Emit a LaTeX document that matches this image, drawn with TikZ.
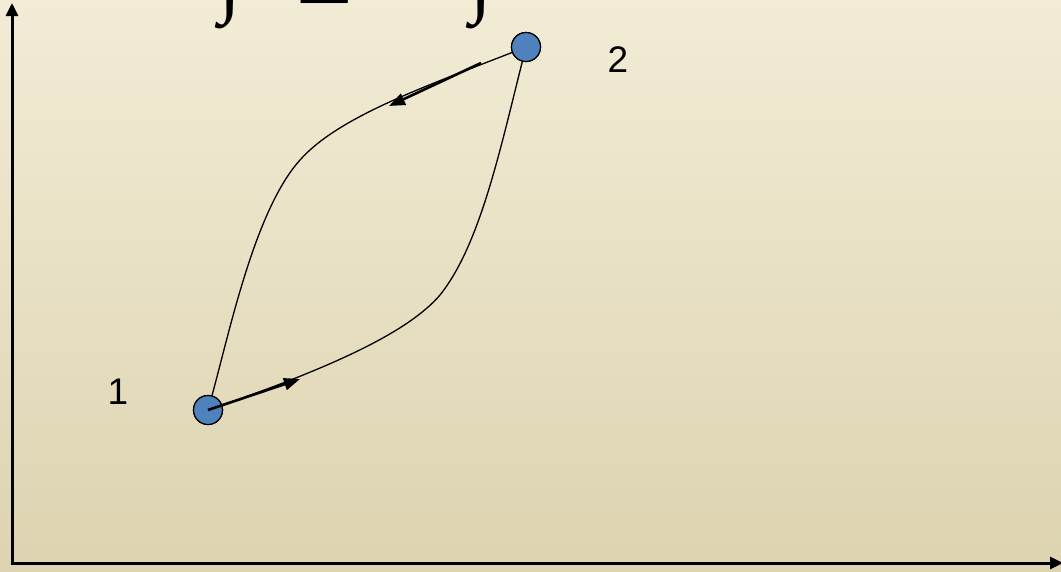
\documentclass[tikz,border=0pt]{standalone}
\usepackage{fontspec}
\setmainfont{Liberation Serif}
\setsansfont{Liberation Sans}
\usetikzlibrary{arrows.meta}
\definecolor{bgtop}{RGB}{242,236,214}
\definecolor{bgbot}{RGB}{221,211,176}
\definecolor{dotblue}{RGB}{79,129,189}
\tikzset{
  statept/.style={circle,draw=black,line width=1.2pt,fill=dotblue,minimum size=29pt,inner sep=0pt},
  numlabel/.style={font=\sffamily\fontsize{37}{37}\selectfont,inner sep=0pt},
  axis/.style={line width=3pt,-{Triangle[length=13pt,width=12pt]}},
  path/.style={line width=1.3pt},
  dirarrow/.style={line width=2.6pt,-{Triangle[length=16pt,width=12pt]}},
  glyph/.style={inner sep=0pt,anchor=south,font=\rmfamily\fontsize{80}{80}\selectfont}
}
\begin{document}
\begin{tikzpicture}[x=1pt,y=-1pt]
\useasboundingbox (0,0) rectangle (1061,571);
\shade[top color=bgtop,bottom color=bgbot] (0,0) rectangle (1061,571);
% partially visible formula at the top
\node[glyph] (int1) at (230,29) {∫};
\node[glyph] (sig) at (326,4) {∑};
\node[glyph] (int2) at (481,29) {∫};
% axes
\coordinate (O) at (12,563);
\coordinate (ytop) at (12,3);
\coordinate (xend) at (1063,563);
\draw[axis] (O) -- (ytop);
\draw[axis] ([xshift=-1.5pt]O) -- (xend);
% states
\node[statept] (p1) at (208,410) {};
\node[statept] (p2) at (526,47) {};
\node[numlabel] (l1) at (118,392) {1};
\node[numlabel] (l2) at (618,60) {2};
% paths
\draw[path] (p1.center) .. controls (340,365) and (410,330) .. (440,295)
  .. controls (480,245) and (500,150) .. (p2);
\draw[path] (p1) .. controls (230,330) and (255,210) .. (300,160)
  .. controls (340,115) and (430,85) .. (p2.center);
\node[statept] at (p1) {};
\node[statept] at (p2) {};
% direction arrows
\coordinate (a1e) at (300,379);
\coordinate (a2s) at (481,63);
\coordinate (a2e) at (389,106);
\draw[dirarrow] (p1.center) -- (a1e);
\draw[dirarrow] (a2s) -- (a2e);
\end{tikzpicture}
\end{document}
